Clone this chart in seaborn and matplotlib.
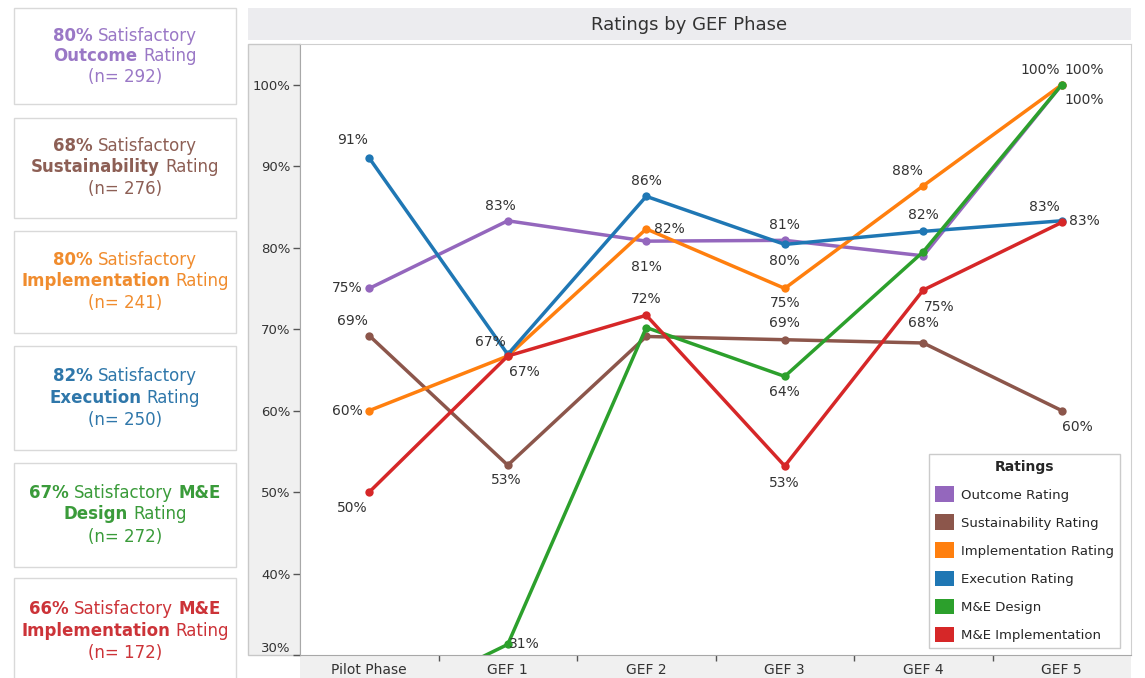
import numpy as np
import pandas as pd
import matplotlib
matplotlib.use('Agg')
import matplotlib.pyplot as plt
import seaborn as sns
from matplotlib.patches import Rectangle, Patch
from matplotlib.transforms import IdentityTransform

# ---- data ----
phases = ['Pilot Phase', 'GEF 1', 'GEF 2', 'GEF 3', 'GEF 4', 'GEF 5']
ratings = ['Outcome Rating', 'Sustainability Rating', 'Implementation Rating',
           'Execution Rating', 'M&E Design', 'M&E Implementation']
colors = ['#9467bd', '#8c564b', '#ff7f0e', '#1f77b4', '#2ca02c', '#d62728']
card_colors = ['#9a78c6', '#8d5f55', '#f08c2e', '#2f77aa', '#3a9b3a', '#cc3338']

outcome = [75.0, 83.3, 80.8, 80.9, 79.0, 100.0]
sustainability = [69.2, 53.3, 69.1, 68.7, 68.3, 60.0]
implementation = [60.0, 66.7, 82.3, 75.0, 87.6, 100.0]
execution = [91.0, 66.9, 86.3, 80.4, 82.0, 83.3]
me_design = [23.0, 31.3, 70.2, 64.2, 79.5, 100.0]
me_implementation = [50.0, 66.7, 71.7, 53.2, 74.8, 83.1]
series = [outcome, sustainability, implementation, execution, me_design, me_implementation]

card_pct = [80, 68, 80, 82, 67, 66]
card_n = [292, 276, 241, 250, 272, 172]

rows = []
for name, vals in zip(ratings, series):
    for ph, v in zip(phases, vals):
        rows.append({'phase': ph, 'value': v, 'rating': name})
df = pd.DataFrame(rows)

W, H = 1145, 678
sns.set_style('white')
plt.rcParams['font.family'] = ['DejaVu Sans']
fig = plt.figure(figsize=(W / 100, H / 100), dpi=100)

# background panels (drawn under the axes)
fig.patches.append(Rectangle((248 / W, 1 - 40 / H), 883 / W, 32 / H, transform=fig.transFigure,
                             facecolor='#ececef', edgecolor='none', zorder=-5))
fig.patches.append(Rectangle((248 / W, 1 - 655 / H), 52 / W, 611 / H, transform=fig.transFigure,
                             facecolor='#f0f0f0', edgecolor='#c8c8c8', lw=1, zorder=-5))
fig.patches.append(Rectangle((300 / W, 0), 831 / W, 23 / H, transform=fig.transFigure,
                             facecolor='#f0f0f0', edgecolor='none', zorder=-5))
fig.text(689.5 / W, 1 - 25 / H, 'Ratings by GEF Phase', ha='center', va='center',
         fontsize=13, color='#333333')

ax = fig.add_axes([300 / W, 1 - 655 / H, 831 / W, 611 / H])
sns.lineplot(data=df, x='phase', y='value', hue='rating', hue_order=ratings,
             palette=colors, marker='o', markersize=6, markeredgewidth=0,
             linewidth=2.5, sort=False, legend=False, ax=ax)
ax.set_xlim(-0.5, 5.5)
ax.set_ylim(30, 105)
ax.set_xlabel('')
ax.set_ylabel('')

yt = [30, 40, 50, 60, 70, 80, 90, 100]
ax.set_yticks(yt)
ax.set_yticklabels([f'{v}%' for v in yt])
ax.tick_params(axis='y', left=True, direction='out', length=5, width=1, color='#555555',
               labelsize=9.5, labelcolor='#333333', pad=2)
ax.get_yticklabels()[0].set_va('bottom')
ax.set_xticks(range(len(phases)))
ax.set_xticklabels(phases)
ax.set_xticks([0.5, 1.5, 2.5, 3.5, 4.5], minor=True)
ax.tick_params(axis='x', which='major', bottom=True, length=0, labelsize=10,
               labelcolor='#333333', pad=6)
ax.tick_params(axis='x', which='minor', bottom=True, direction='out', length=4, width=1,
               color='#555555')
for s in ['left', 'bottom']:
    ax.spines[s].set_color('#a8a8a8')
for s in ['top', 'right']:
    ax.spines[s].set_color('#cfcfcf')

# data labels: (series, phase, dx px, dy px)
label_pos = [
    (3, 0, -17, 18), (0, 0, -22, 0), (1, 0, -17, 15), (2, 0, -22, 0), (5, 0, -17, -16),
    (0, 1, -7, 15), (3, 1, -17, 12), (5, 1, 17, -16), (1, 1, -2, -15), (4, 1, 17, 0),
    (3, 2, 0, 15), (2, 2, 23, 0), (0, 2, 0, -26), (5, 2, 0, 16),
    (0, 3, 0, 15), (3, 3, 0, -17), (2, 3, 0, -15), (1, 3, 0, 17), (4, 3, 0, -16), (5, 3, 0, -17),
    (2, 4, -16, 15), (3, 4, 0, 16), (5, 4, 16, -17), (1, 4, 0, 20),
    (2, 5, -22, 15), (0, 5, 22, 15), (4, 5, 22, -15), (5, 5, -17, 15), (3, 5, 23, 0),
    (1, 5, 16, -16),
]
for si, pi, dx, dy in label_pos:
    v = series[si][pi]
    ax.annotate(f'{round(v)}%', xy=(phases[pi], v), xytext=(dx, dy), textcoords='offset pixels',
                ha='center', va='center', fontsize=10, color='#333333')

handles = [Patch(facecolor=c, edgecolor='none') for c in colors]
leg = ax.legend(handles, ratings, title='Ratings', loc='lower right',
                bbox_to_anchor=(0.987, 0.011), frameon=True, fancybox=False,
                edgecolor='#bfbfbf', fontsize=9.5, title_fontsize=10,
                handlelength=1.45, handleheight=1.45, labelspacing=0.94,
                borderpad=0.45, handletextpad=0.55, borderaxespad=0)
leg.get_title().set_fontweight('bold')
leg.get_frame().set_linewidth(1)

# ---- summary cards on the left ----
card_names = [
    [[(f'{card_pct[0]}%', True), ('Satisfactory', False)], [('Outcome', True), ('Rating', False)]],
    [[(f'{card_pct[1]}%', True), ('Satisfactory', False)], [('Sustainability', True), ('Rating', False)]],
    [[(f'{card_pct[2]}%', True), ('Satisfactory', False)], [('Implementation', True), ('Rating', False)]],
    [[(f'{card_pct[3]}%', True), ('Satisfactory', False)], [('Execution', True), ('Rating', False)]],
    [[(f'{card_pct[4]}%', True), ('Satisfactory', False), ('M&E', True)], [('Design', True), ('Rating', False)]],
    [[(f'{card_pct[5]}%', True), ('Satisfactory', False), ('M&E', True)], [('Implementation', True), ('Rating', False)]],
]
card_tops = [8, 118, 231, 346, 463, 578]
card_bottoms = [104, 218, 333, 450, 567, 690]
line_y = [[36, 56, 77], [146, 167, 189], [260, 281, 303], [376, 398, 420], [493, 514, 537], [609, 631, 653]]

renderer = fig.canvas.get_renderer()
probe_a = fig.text(0, 0, 'x x', fontsize=12)
probe_b = fig.text(0, 0, 'xx', fontsize=12)
space_w = probe_a.get_window_extent(renderer).width - probe_b.get_window_extent(renderer).width
probe_a.remove()
probe_b.remove()

cx = 125
for k in range(6):
    fig.patches.append(Rectangle((14 / W, 1 - card_bottoms[k] / H), 222 / W,
                                 (card_bottoms[k] - card_tops[k]) / H, transform=fig.transFigure,
                                 facecolor='white', edgecolor='#d9d9d9', lw=1, zorder=-5))
    lines = card_names[k] + [[(f'(n= {card_n[k]})', False)]]
    for li, segs in enumerate(lines):
        texts = []
        for s, b in segs:
            t = fig.text(0, 0, s, fontsize=12, fontweight='bold' if b else 'normal',
                         color=card_colors[k], va='center', ha='left', transform=IdentityTransform())
            texts.append(t)
        widths = [t.get_window_extent(renderer).width for t in texts]
        total = sum(widths) + space_w * (len(texts) - 1)
        x = cx - total / 2
        y = H - line_y[k][li]
        for t, w in zip(texts, widths):
            t.set_position((x, y))
            x += w + space_w

fig.savefig('out.png', dpi=100)
